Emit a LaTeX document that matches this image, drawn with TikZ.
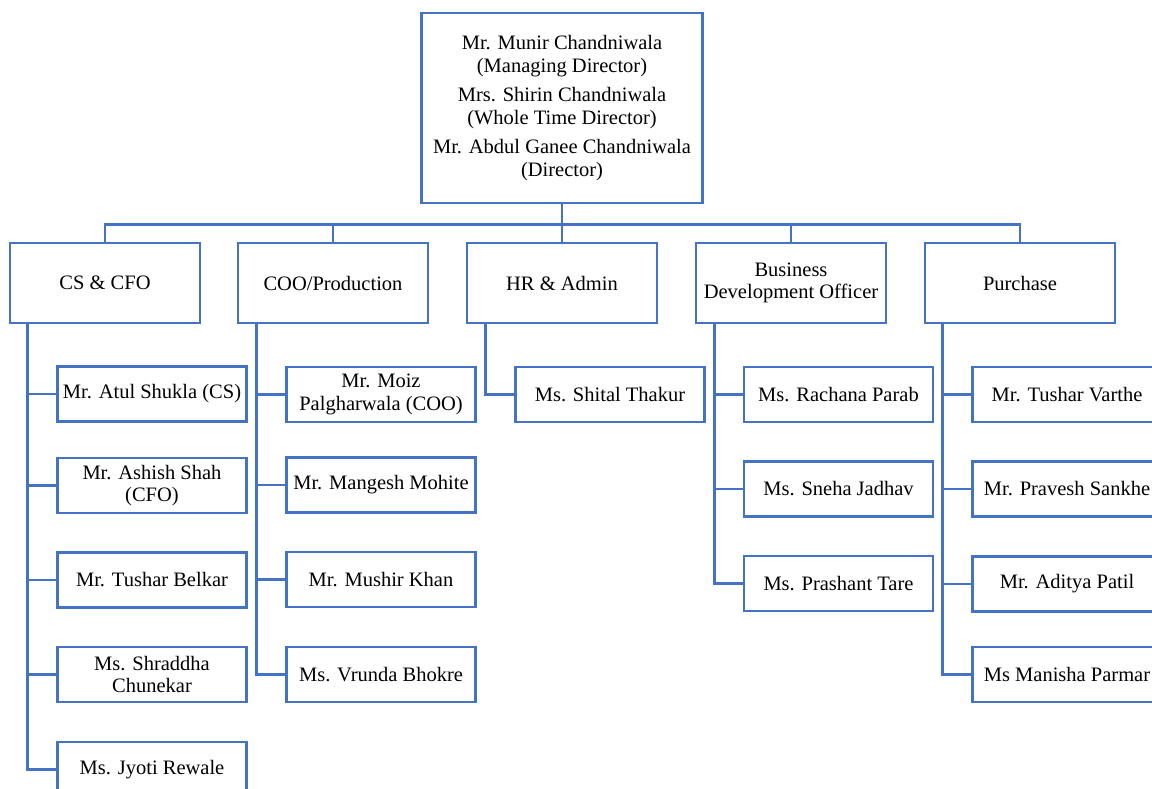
\documentclass[tikz,border=0pt]{standalone}
\usepackage{fontspec}
\setmainfont{Liberation Serif}
\definecolor{wblue}{HTML}{4472C4}
\begin{document}
\begin{tikzpicture}[x=1pt,y=-1pt,
  box/.style={draw=wblue,line width=2.8pt,rectangle,inner sep=0pt,align=center,
    font=\fontsize{20.5}{22.5}\selectfont,text=black},
  dept/.style={box,minimum width=190pt,minimum height=80pt},
  kid/.style={box,minimum width=189pt,minimum height=55pt},
  link/.style={draw=wblue,line width=2.8pt,line join=miter}]
\useasboundingbox (0,0) rectangle (1152,789);
\clip (0,0) rectangle (1152,789);
% top
\node[box,minimum width=281pt,minimum height=190pt] (top) at (562,108)
 {Mr. Munir Chandniwala\\(Managing Director)\\[7pt]Mrs. Shirin Chandniwala\\(Whole Time Director)\\[7pt]Mr. Abdul Ganee Chandniwala\\(Director)};
% departments
\node[dept] (d1) at (105,283) {CS \& CFO};
\node[dept] (d2) at (333,283) {COO/Production};
\node[dept] (d3) at (562,283) {HR \& Admin};
\node[dept] (d4) at (791,283) {Business\\Development Officer};
\node[dept] (d5) at (1020,283) {Purchase};
% CS children
\node[kid] (c1) at (152,394) {Mr. Atul Shukla (CS)};
\node[kid] (c2) at (152,485.5) {Mr. Ashish Shah\\(CFO)};
\node[kid] (c3) at (152,580) {Mr. Tushar Belkar};
\node[kid] (c4) at (152,674.5) {Ms. Shraddha\\Chunekar};
\node[kid] (c5) at (152,769.5) {Ms. Jyoti Rewale};
% COO children
\node[kid] (o1) at (381,394.5) {Mr. Moiz\\Palgharwala (COO)};
\node[kid] (o2) at (381,485) {Mr. Mangesh Mohite};
\node[kid] (o3) at (381,579.5) {Mr. Mushir Khan};
\node[kid] (o4) at (381,674.5) {Ms. Vrunda Bhokre};
% HR child
\node[kid] (h1) at (610,394.5) {Ms. Shital Thakur};
% BDO children
\node[kid] (b1) at (838.5,394.5) {Ms. Rachana Parab};
\node[kid] (b2) at (838.5,489) {Ms. Sneha Jadhav};
\node[kid] (b3) at (838.5,583.5) {Ms. Prashant Tare};
% Purchase children
\node[kid] (p1) at (1067,394.5) {Mr. Tushar Varthe};
\node[kid] (p2) at (1067,489) {Mr. Pravesh Sankhe};
\node[kid] (p3) at (1067,584) {Mr. Aditya Patil};
\node[kid] (p4) at (1067,674.5) {Ms Manisha Parmar};
% bus
\draw[link] (top.south) -- ++(0,20) coordinate (bus);
\foreach \d in {d1,d2,d3,d4,d5}{\draw[link] (bus) -| (\d.north);}
% children connectors
\foreach \c in {c1,c2,c3,c4,c5}{\draw[link] ([xshift=19pt]d1.south west) |- (\c.west);}
\foreach \c in {o1,o2,o3,o4}{\draw[link] ([xshift=20pt]d2.south west) |- (\c.west);}
\draw[link] ([xshift=20pt]d3.south west) |- (h1.west);
\foreach \c in {b1,b2,b3}{\draw[link] ([xshift=20pt]d4.south west) |- (\c.west);}
\foreach \c in {p1,p2,p3,p4}{\draw[link] ([xshift=19pt]d5.south west) |- (\c.west);}
\end{tikzpicture}
\end{document}
